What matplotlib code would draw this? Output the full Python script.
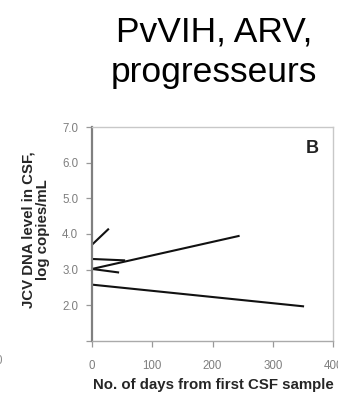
import matplotlib
matplotlib.use("Agg")
import matplotlib.pyplot as plt

plt.rcParams['font.family'] = ['Liberation Sans', 'DejaVu Sans']

# Data: each patient's JCV DNA trajectory (start day, end day, start level, end level)
days_start = [0, 0, 0, 0, 0]
days_end = [28, 245, 55, 45, 352]
level_start = [3.70, 3.02, 3.30, 3.02, 2.58]
level_end = [4.15, 3.95, 3.26, 2.92, 1.97]

xticks = [0, 100, 200, 300, 400]
yticks = [1.0, 2.0, 3.0, 4.0, 5.0, 6.0, 7.0]
ytick_labels = ['', '2.0', '3.0', '4.0', '5.0', '6.0', '7.0']

title_lines = ['PvVIH, ARV,', 'progresseurs']
panel_label = 'B'
xlabel = 'No. of days from first CSF sample'
ylabel = 'JCV DNA level in CSF,\nlog copies/mL'

W, H = 338, 395
fig = plt.figure(figsize=(W / 100, H / 100), dpi=100)
ax = fig.add_axes([92 / W, (H - 341) / H, (333 - 92) / W, (341 - 127) / H])

for xs, xe, ys, ye in zip(days_start, days_end, level_start, level_end):
    ax.plot([xs, xe], [ys, ye], color='#111111', lw=1.5, solid_capstyle='butt', clip_on=False)

ax.set_xlim(0, 400)
ax.set_ylim(1.0, 7.0)
ax.set_xticks(xticks)
ax.set_xticklabels([str(v) for v in xticks])
ax.set_yticks(yticks)
ax.set_yticklabels(ytick_labels)

ax.tick_params(axis='both', direction='out', length=4, width=0.9, colors='#999999',
               labelcolor='#7e7e7e', labelsize=8.3)
ax.tick_params(axis='y', pad=6)
ax.tick_params(axis='x', pad=10)

ax.spines['left'].set_color('#808080')
ax.spines['left'].set_linewidth(1.6)
ax.spines['bottom'].set_color('#aaaaaa')
ax.spines['bottom'].set_linewidth(1.0)
ax.spines['top'].set_color('#c8c8c8')
ax.spines['top'].set_linewidth(1.0)
ax.spines['right'].set_color('#c8c8c8')
ax.spines['right'].set_linewidth(1.0)

ax.text(365, 6.41, panel_label, fontsize=13, fontweight='bold', color='#222222',
        ha='center', va='center')

fig.text(213.5 / W, (H - 385) / H, xlabel, fontsize=10.8, fontweight='bold',
         color='#262626', ha='center', va='center')
fig.text(36 / W, (H - 230) / H, ylabel, fontsize=10.8, fontweight='bold',
         color='#262626', ha='center', va='center', rotation=90,
         linespacing=1.05, multialignment='center')

fig.text(214 / W, (H - 41) / H, title_lines[0], fontsize=25.5, color='black',
         ha='center', va='baseline')
fig.text(213.5 / W, (H - 82) / H, title_lines[1], fontsize=25.5, color='black',
         ha='center', va='baseline')

# cropped fragment of neighbouring panel's tick label
fig.text(3 / W, (H - 361) / H, '400', fontsize=8.3, color='#8a8a8a', ha='right', va='center')

fig.savefig('out.png', dpi=100)
